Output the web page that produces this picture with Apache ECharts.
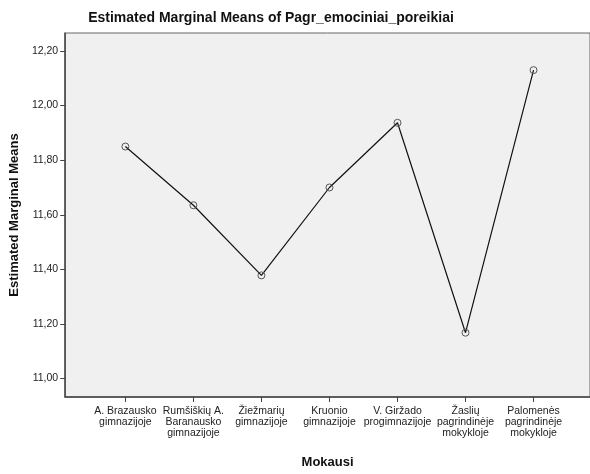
<!DOCTYPE html>
<html>
<head>
<meta charset="utf-8">
<script src="https://cdn.jsdelivr.net/npm/echarts@6/dist/echarts.min.js"></script>
<style>
  html, body { margin: 0; padding: 0; background: #fff; }
  #main { width: 590px; height: 474px; }
</style>
</head>
<body>
<div id="main"></div>
<script>
// kategorijos (x ašis) ir vidurkiai
var categories = [
  'A. Brazausko\ngimnazijoje',
  'Rumšiškių A.\nBaranausko\ngimnazijoje',
  'Žiežmarių\ngimnazijoje',
  'Kruonio\ngimnazijoje',
  'V. Giržado\nprogimnazijoje',
  'Žaslių\npagrindinėje\nmokykloje',
  'Palomenės\npagrindinėje\nmokykloje'
]
var means = [11.85, 11.635, 11.378, 11.70, 11.937, 11.168, 12.13]
var yTicks = [11.0, 11.2, 11.4, 11.6, 11.8, 12.0, 12.2]

var chart = echarts.init(document.getElementById('main'))

var xIdx = categories.map(function (c, i) { return i })
var points = means.map(function (v, i) { return [i, v] })

var option = {
  animation: false,
  textStyle: { fontFamily: 'Liberation Sans, Arial, sans-serif' },
  title: {
    text: 'Estimated Marginal Means of Pagr_emociniai_poreikiai',
    left: 266,
    textAlign: 'center',
    top: 6,
    textStyle: { fontSize: 14, fontWeight: 'bold', color: '#111' }
  },
  grid: {
    left: 65, right: -2, top: 33, bottom: 65,
    show: true,
    backgroundColor: '#f0f0f0',
    borderColor: '#666',
    borderWidth: 1
  },
  xAxis: {
    type: 'value',
    min: -0.885,
    max: 6.83,
    name: 'Mokausi',
    nameLocation: 'middle',
    nameGap: 59,
    nameTextStyle: { fontSize: 13, fontWeight: 'bold', color: '#111' },
    splitLine: { show: false },
    axisLine: { show: true, onZero: false, lineStyle: { color: '#444', width: 1.5 } },
    axisTick: { show: true, length: 5, customValues: xIdx, lineStyle: { color: '#444' } },
    axisLabel: {
      customValues: xIdx,
      margin: 9,
      fontSize: 10.5,
      lineHeight: 11,
      color: '#222',
      formatter: function (v) { return categories[Math.round(v)] }
    }
  },
  yAxis: {
    type: 'value',
    min: 10.9325,
    max: 12.266,
    name: 'Estimated Marginal Means',
    nameLocation: 'middle',
    nameGap: 39,
    nameTextStyle: { fontSize: 13, fontWeight: 'bold', color: '#111' },
    splitLine: { show: false },
    axisLine: { show: true, onZero: false, lineStyle: { color: '#444', width: 1.5 } },
    axisTick: { show: true, length: 5, customValues: yTicks, lineStyle: { color: '#444' } },
    axisLabel: {
      customValues: yTicks,
      margin: 7,
      fontSize: 10.5,
      color: '#222',
      formatter: function (v) { return v.toFixed(2).replace('.', ',') }
    }
  },
  series: [
    {
      type: 'line',
      data: points,
      symbol: 'circle',
      symbolSize: 7,
      lineStyle: { color: '#111', width: 1.2 },
      itemStyle: { color: 'transparent', borderColor: '#555', borderWidth: 1 }
    }
  ]
}

chart.setOption(option)
</script>
</body>
</html>
